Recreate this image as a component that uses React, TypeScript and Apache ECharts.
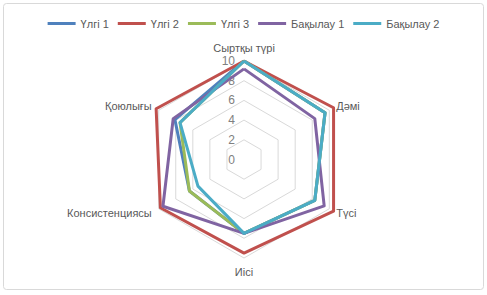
import React, { useEffect, useRef } from "react";
import * as echarts from "echarts";

const categories = ["Сыртқы түрі", "Дәмі", "Түсі", "Иісі", "Консистенциясы", "Қоюлығы"];
const seriesNames = ["Үлгі 1", "Үлгі 2", "Үлгі 3", "Бақылау 1", "Бақылау 2"];
const ulgi1 = [10, 9.5, 8.3, 7.5, 6.4, 8.1];
const ulgi2 = [10, 10.5, 10.5, 9.5, 9.8, 10.3];
const ulgi3 = [10, 9.5, 8.3, 7.5, 6.4, 7.5];
const bakylau1 = [9.2, 8.3, 9.4, 7.5, 9.5, 8.3];
const bakylau2 = [10, 9.5, 8.3, 7.5, 5.4, 7.5];
const axisMax = 10;
const colors = ["#4F81BD", "#C0504D", "#9BBB59", "#8064A2", "#4BACC6"];

// ECharts radar places indicators counter-clockwise; Excel goes clockwise.
const order = [0, 5, 4, 3, 2, 1];
const reorder = (a: number[]) => order.map((i) => a[i]);

export default function App() {
  const ref = useRef<HTMLDivElement>(null);
  useEffect(() => {
    if (!ref.current) return;
    const chart = echarts.init(ref.current, undefined, { renderer: "svg" });
    const all = [ulgi1, ulgi2, ulgi3, bakylau1, bakylau2];
    const font = "'Liberation Sans', Arial, sans-serif";
    chart.setOption({
      animation: false,
      textStyle: { fontFamily: font },
      legend: {
        top: 13,
        left: "center",
        data: seriesNames,
        icon: "rect",
        itemWidth: 28,
        itemHeight: 3,
        itemGap: 9,
        textStyle: { fontSize: 11, color: "#595959", fontFamily: font },
      },
      graphic: [
        {
          type: "rect",
          shape: { x: 3.5, y: 3.5, width: 480, height: 286, r: 3 },
          style: { fill: "none", stroke: "#d9d9d9", lineWidth: 1 },
          silent: true,
        },
      ],
      radar: {
        center: [244, 159.5],
        radius: 98.5,
        startAngle: 90,
        shape: "polygon",
        splitNumber: 5,
        nameGap: 8,
        indicator: order.map((i, k) => ({
          name: categories[i],
          min: 0,
          max: axisMax,
          ...(k === 0
            ? { axisLabel: { show: true, fontSize: 12, color: "#808080", margin: 9, fontFamily: font } }
            : {}),
        })),
        axisName: { color: "#595959", fontSize: 11, fontFamily: font },
        axisLine: { show: false },
        axisTick: { show: false },
        axisLabel: { show: false },
        splitLine: { lineStyle: { color: "#d9d9d9", width: 1 } },
        splitArea: { show: false },
      },
      series: [
        {
          type: "radar",
          symbol: "none",
          data: all.map((d, i) => ({
            name: seriesNames[i],
            value: reorder(d),
            itemStyle: { color: colors[i] },
            lineStyle: { color: colors[i], width: 3 },
          })),
        },
      ],
    });
    return () => chart.dispose();
  }, []);
  return (
    <div
      ref={ref}
      style={{ position: "fixed", left: 0, top: 0, width: 487, height: 295, background: "#fff" }}
    />
  );
}
